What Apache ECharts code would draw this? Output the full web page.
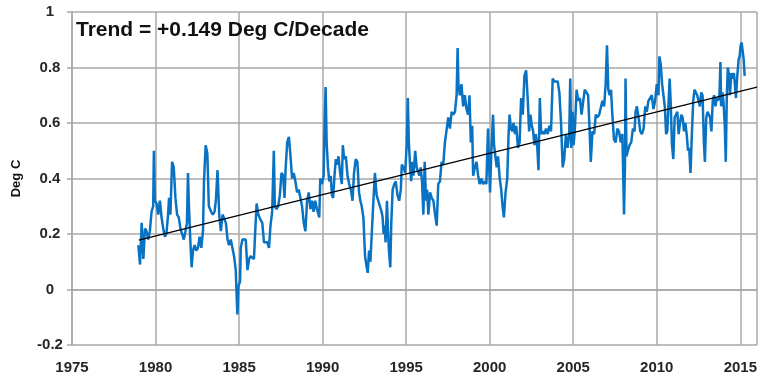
<!DOCTYPE html>
<html>
<head>
<meta charset="utf-8">
<script src="https://cdn.jsdelivr.net/npm/echarts@6/dist/echarts.min.js"></script>
<style>
  html, body { margin: 0; padding: 0; background: #ffffff; }
  #chart { width: 760px; height: 379px; }
</style>
</head>
<body>
<div id="chart"></div>
<script>
// Decimal year of each reading
const years = [
  1978.97,1979.07,1979.17,1979.27,1979.37,1979.46,1979.56,1979.66,1979.76,1979.86,1979.90,1979.96,
  1980.06,1980.16,1980.26,1980.36,1980.46,1980.56,1980.65,1980.75,1980.81,1980.89,1980.99,
  1981.09,1981.19,1981.29,1981.39,1981.49,1981.59,1981.69,1981.79,1981.88,1981.94,
  1982.00,1982.08,1982.16,1982.24,1982.34,1982.44,1982.54,1982.64,1982.74,1982.84,1982.90,
  1983.00,1983.10,1983.19,1983.33,1983.43,1983.53,1983.61,1983.71,1983.81,1983.91,
  1984.01,1984.11,1984.21,1984.31,1984.40,1984.50,1984.60,1984.70,1984.80,1984.86,1984.90,1984.96,
  1985.06,1985.10,1985.20,1985.30,1985.40,1985.50,1985.60,1985.69,1985.79,1985.89,1985.99,
  1986.05,1986.15,1986.29,1986.39,1986.49,1986.59,1986.69,1986.79,1986.88,1986.98,
  1987.08,1987.14,1987.24,1987.34,1987.44,1987.54,1987.64,1987.72,1987.78,1987.88,1987.98,
  1988.08,1988.17,1988.27,1988.37,1988.47,1988.57,1988.67,1988.77,1988.87,1988.97,
  1989.07,1989.17,1989.27,1989.37,1989.46,1989.56,1989.66,1989.76,1989.80,1989.86,1989.96,
  1990.06,1990.12,1990.18,1990.24,1990.32,1990.40,1990.48,1990.56,1990.63,1990.71,1990.79,1990.87,1990.95,
  1991.05,1991.15,1991.21,1991.29,1991.39,1991.49,1991.59,1991.69,1991.79,1991.88,1991.98,
  1992.08,1992.18,1992.26,1992.34,1992.44,1992.54,1992.64,1992.70,1992.78,1992.86,1992.94,
  1993.04,1993.13,1993.23,1993.33,1993.43,1993.53,1993.59,1993.65,1993.71,1993.77,1993.85,1993.91,1993.97,
  1994.05,1994.11,1994.19,1994.29,1994.38,1994.48,1994.58,1994.68,1994.74,1994.84,1994.94,
  1995.04,1995.10,1995.16,1995.24,1995.30,1995.38,1995.44,1995.54,1995.63,1995.71,1995.79,1995.87,1995.95,
  1996.03,1996.11,1996.19,1996.25,1996.33,1996.43,1996.53,1996.63,1996.73,1996.83,1996.92,
  1997.02,1997.12,1997.22,1997.32,1997.42,1997.52,1997.62,1997.72,1997.82,1997.92,
  1998.02,1998.08,1998.13,1998.21,1998.31,1998.41,1998.51,1998.61,1998.71,1998.79,1998.87,1998.95,
  1999.01,1999.11,1999.21,1999.31,1999.40,1999.50,1999.60,1999.70,1999.80,1999.90,1999.96,
  2000.02,2000.10,2000.20,2000.26,2000.34,2000.42,2000.50,2000.60,2000.69,2000.77,2000.85,2000.95,
  2001.05,2001.13,2001.19,2001.27,2001.35,2001.43,2001.51,2001.59,2001.69,2001.79,2001.88,2001.98,
  2002.08,2002.18,2002.28,2002.36,2002.44,2002.52,2002.60,2002.68,2002.76,2002.84,2002.92,
  2003.00,2003.08,2003.17,2003.27,2003.37,2003.47,2003.57,2003.67,2003.77,2003.87,2003.97,
  2004.07,2004.17,2004.27,2004.37,2004.46,2004.56,2004.66,2004.76,2004.82,2004.88,2004.96,
  2005.02,2005.10,2005.20,2005.30,2005.40,2005.50,2005.60,2005.69,2005.79,2005.89,2005.99,
  2006.05,2006.15,2006.25,2006.35,2006.45,2006.55,2006.65,2006.75,2006.85,2006.94,
  2007.02,2007.10,2007.18,2007.26,2007.34,2007.44,2007.54,2007.64,2007.74,2007.84,2007.94,
  2008.04,2008.10,2008.13,2008.19,2008.27,2008.37,2008.47,2008.57,2008.67,2008.73,2008.81,2008.91,
  2009.01,2009.11,2009.21,2009.31,2009.40,2009.50,2009.60,2009.70,2009.80,2009.90,
  2010.00,2010.10,2010.16,2010.24,2010.32,2010.40,2010.48,2010.56,2010.63,2010.71,2010.77,2010.83,2010.91,2010.99,
  2011.07,2011.15,2011.23,2011.31,2011.39,2011.47,2011.55,2011.63,2011.71,2011.79,2011.87,2011.94,
  2012.02,2012.10,2012.18,2012.26,2012.34,2012.42,2012.50,2012.58,2012.66,2012.74,2012.82,2012.88,2012.96,
  2013.04,2013.12,2013.19,2013.27,2013.35,2013.43,2013.51,2013.59,2013.67,2013.75,2013.81,2013.85,2013.93,2013.99,
  2014.07,2014.13,2014.19,2014.25,2014.33,2014.38,2014.46,2014.54,2014.62,2014.70,2014.74,2014.82,2014.90,2014.96,
  2015.02,2015.08,2015.14,2015.20,2015.26
];
// Temperature anomaly, Deg C
const anomalies = [
  0.16,0.09,0.24,0.11,0.22,0.21,0.18,0.21,0.28,0.30,0.50,0.32,
  0.31,0.27,0.32,0.26,0.22,0.19,0.20,0.27,0.33,0.27,0.46,
  0.44,0.33,0.27,0.26,0.22,0.20,0.18,0.21,0.24,0.42,
  0.30,0.18,0.08,0.14,0.16,0.14,0.15,0.19,0.15,0.21,0.39,
  0.52,0.49,0.30,0.28,0.27,0.28,0.32,0.43,0.27,0.21,
  0.27,0.27,0.24,0.18,0.16,0.18,0.15,0.12,0.07,-0.03,-0.09,0.01,
  0.03,0.15,0.18,0.18,0.18,0.07,0.11,0.12,0.12,0.11,0.24,
  0.31,0.27,0.25,0.24,0.17,0.17,0.17,0.15,0.23,0.28,
  0.50,0.30,0.29,0.30,0.34,0.42,0.41,0.33,0.43,0.53,0.55,
  0.48,0.40,0.42,0.39,0.35,0.36,0.33,0.30,0.24,0.21,
  0.32,0.35,0.29,0.32,0.28,0.32,0.29,0.29,0.26,0.40,0.38,
  0.41,0.60,0.73,0.53,0.44,0.39,0.41,0.34,0.33,0.41,0.47,0.45,0.48,
  0.42,0.38,0.52,0.47,0.48,0.41,0.38,0.36,0.32,0.42,0.47,
  0.46,0.35,0.32,0.30,0.26,0.12,0.08,0.06,0.14,0.10,0.20,
  0.32,0.42,0.34,0.32,0.30,0.28,0.26,0.20,0.23,0.17,0.32,0.22,0.14,
  0.08,0.24,0.36,0.38,0.39,0.34,0.32,0.36,0.45,0.44,0.42,
  0.53,0.69,0.53,0.44,0.39,0.46,0.41,0.50,0.44,0.44,0.41,0.44,0.39,
  0.27,0.46,0.32,0.36,0.27,0.35,0.33,0.32,0.27,0.23,0.38,
  0.39,0.46,0.45,0.53,0.53,0.62,0.58,0.64,0.63,0.64,
  0.70,0.87,0.74,0.70,0.74,0.66,0.70,0.65,0.63,0.70,0.53,0.59,
  0.41,0.44,0.46,0.41,0.38,0.40,0.38,0.39,0.38,0.58,0.46,
  0.35,0.50,0.63,0.52,0.48,0.44,0.48,0.40,0.36,0.30,0.26,0.35,
  0.40,0.56,0.63,0.58,0.57,0.60,0.56,0.59,0.51,0.53,0.69,0.63,
  0.77,0.79,0.68,0.57,0.63,0.59,0.57,0.52,0.56,0.52,0.43,
  0.69,0.56,0.57,0.56,0.58,0.56,0.59,0.57,0.76,0.75,0.75,
  0.75,0.71,0.60,0.44,0.47,0.56,0.51,0.56,0.76,0.51,0.64,
  0.52,0.58,0.72,0.68,0.69,0.63,0.68,0.72,0.71,0.70,0.56,
  0.46,0.57,0.56,0.63,0.62,0.63,0.63,0.68,0.66,0.74,
  0.88,0.72,0.70,0.72,0.63,0.54,0.53,0.58,0.57,0.53,0.56,
  0.27,0.46,0.76,0.48,0.50,0.52,0.53,0.58,0.57,0.64,0.66,0.62,
  0.57,0.56,0.58,0.66,0.64,0.68,0.69,0.70,0.65,0.68,
  0.74,0.70,0.84,0.81,0.74,0.70,0.66,0.56,0.57,0.68,0.76,0.68,0.52,0.47,
  0.62,0.63,0.64,0.56,0.60,0.63,0.62,0.57,0.60,0.56,0.50,0.51,
  0.42,0.56,0.68,0.72,0.71,0.70,0.68,0.66,0.71,0.70,0.53,0.46,0.62,
  0.64,0.63,0.62,0.57,0.68,0.70,0.66,0.69,0.68,0.70,0.82,0.66,0.71,0.68,
  0.59,0.46,0.69,0.80,0.77,0.70,0.78,0.76,0.78,0.78,0.69,0.77,0.83,0.84,
  0.88,0.89,0.86,0.83,0.77
];
// Linear trend (+0.149 Deg C/Decade)
const trendYears = [1979, 2016];
const trendValues = [0.178, 0.729];
const titleText = 'Trend = +0.149 Deg C/Decade';
const yAxisName = 'Deg C';

const seriesData = years.map((y, i) => [y, anomalies[i]]);
const trendData = trendYears.map((y, i) => [y, trendValues[i]]);

const chart = echarts.init(document.getElementById('chart'), null, { renderer: 'canvas' });
const gridColor = '#a8a8a8';
const labelStyle = { color: '#262626', fontWeight: 'bold', fontSize: 15, fontFamily: 'Liberation Sans, Arial, sans-serif' };

chart.setOption({
  animation: false,
  backgroundColor: '#ffffff',
  title: {
    text: titleText,
    left: 71, top: 15,
    textStyle: { color: '#111111', fontWeight: 'bold', fontSize: 21, fontFamily: 'Liberation Sans, Arial, sans-serif' }
  },
  grid: { left: 72, right: 0, top: 12, bottom: 34, containLabel: false },
  xAxis: {
    type: 'value', min: 1975, max: 2016, interval: 5,
    axisLine: { show: true, lineStyle: { color: gridColor, width: 1.5 } },
    axisTick: { show: false },
    splitLine: { show: true, lineStyle: { color: gridColor, width: 1.5 } },
    axisLabel: Object.assign({ margin: 15, showMaxLabel: false, formatter: v => String(v) }, labelStyle)
  },
  yAxis: {
    type: 'value', min: -0.2, max: 1, interval: 0.2,
    name: yAxisName, nameLocation: 'middle', nameGap: 49, nameRotate: 90,
    nameTextStyle: { color: '#111111', fontWeight: 'bold', fontSize: 13, fontFamily: 'Liberation Sans, Arial, sans-serif' },
    axisLine: { show: true, lineStyle: { color: gridColor, width: 1.5 } },
    axisTick: { show: true, inside: false, length: 5, lineStyle: { color: gridColor, width: 1.5 } },
    splitLine: { show: true, lineStyle: { color: gridColor, width: 1.5 } },
    axisLabel: Object.assign({ margin: 22, align: 'center', formatter: v => String(Math.round(v * 10) / 10) }, labelStyle)
  },
  series: [
    {
      type: 'line', data: seriesData, symbol: 'none', smooth: false,
      lineStyle: { color: '#0a72c2', width: 2.5 }, z: 2
    },
    {
      type: 'line', data: trendData, symbol: 'none',
      lineStyle: { color: '#000000', width: 1.2 }, z: 3
    }
  ]
});
</script>
</body>
</html>
